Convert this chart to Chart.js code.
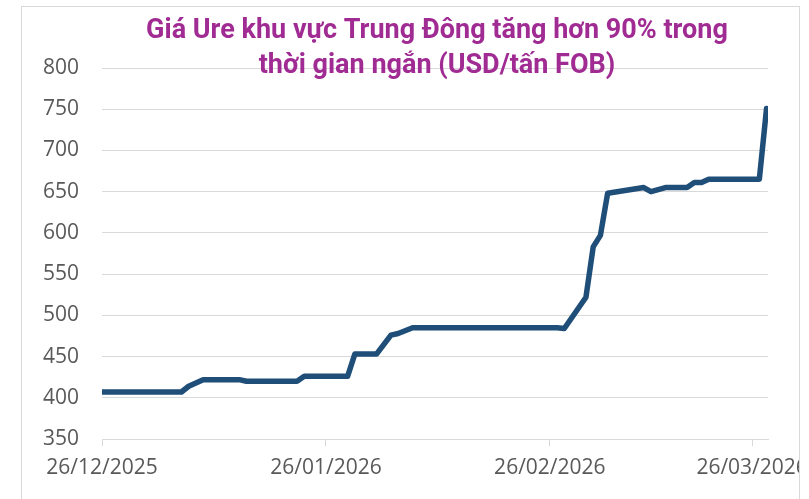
<!DOCTYPE html>
<html>
<head>
<meta charset="utf-8">
<script src="https://cdn.jsdelivr.net/npm/chart.js@4.4.1/dist/chart.umd.min.js"></script>
<style>
  html, body { margin: 0; padding: 0; background: #fff; }
  #wrap { width: 809px; height: 499px; }
</style>
</head>
<body>
<div id="wrap"><canvas id="ureaChart" width="809" height="499"></canvas></div>
<script>
// Giá Ure Trung Đông (USD/tấn FOB)
const dates = [
  '2025-12-26', '2026-01-06', '2026-01-07', '2026-01-08', '2026-01-09',
  '2026-01-14', '2026-01-15', '2026-01-22', '2026-01-23', '2026-01-29',
  '2026-01-30', '2026-02-02', '2026-02-04', '2026-02-05', '2026-02-07',
  '2026-02-27', '2026-02-28', '2026-03-03', '2026-03-04', '2026-03-05',
  '2026-03-06', '2026-03-11', '2026-03-12', '2026-03-14', '2026-03-17',
  '2026-03-18', '2026-03-19', '2026-03-20', '2026-03-27', '2026-03-28'
];
const prices = [
  407, 407, 414, 418, 422,
  422, 420, 420, 426, 426,
  453, 453, 476, 478, 485,
  485, 484, 522, 583, 597,
  648, 655, 650, 655, 655,
  661, 661, 665, 665, 751
];
const tickDates = ['2025-12-26', '2026-01-26', '2026-02-26', '2026-03-26'];
const tickLabels = ['26/12/2025', '26/01/2026', '26/02/2026', '26/03/2026'];
const yTicks = { min: 350, max: 800, step: 50 };
const titleLines = [
  'Giá Ure khu vực Trung Đông tăng hơn 90% trong',
  'thời gian ngắn (USD/tấn FOB)'
];

const DAY = 86400000;
const t0 = Date.parse(dates[0]);
const dayOf = d => (Date.parse(d) - t0) / DAY;

const points = dates.map((d, i) => ({ x: dayOf(d), y: prices[i] }));
const tickDays = tickDates.map(dayOf);

const frame = {
  id: 'frame',
  beforeDraw(chart) {
    const { ctx } = chart;
    ctx.save();
    ctx.fillStyle = '#fff';
    ctx.fillRect(0, 0, chart.width, chart.height);
    ctx.restore();
  },
  afterDraw(chart) {
    const { ctx } = chart;
    ctx.save();
    // chart frame clips the last date label
    ctx.fillStyle = '#fff';
    ctx.fillRect(800, 0, chart.width - 800, chart.height);
    ctx.strokeStyle = '#d9d9d9';
    ctx.lineWidth = 1;
    ctx.strokeRect(21.5, 6.5, 778, 500);
    // title
    ctx.font = 'bold 27px Roboto';
    ctx.fillStyle = '#A02B93';
    ctx.textAlign = 'center';
    ctx.textBaseline = 'middle';
    titleLines.forEach((t, i) => ctx.fillText(t, 437, 31 + i * 35));
    ctx.restore();
  }
};

new Chart(document.getElementById('ureaChart'), {
  type: 'line',
  data: {
    datasets: [{
      label: 'Ure Trung Đông',
      data: points,
      borderColor: '#1F4E79',
      borderWidth: 5.5,
      borderCapStyle: 'round',
      borderJoinStyle: 'round',
      pointRadius: 0,
      tension: 0,
      fill: false
    }]
  },
  options: {
    responsive: false,
    animation: false,
    layout: { padding: { left: 21, right: 41, top: 68, bottom: 0 } },
    plugins: {
      legend: { display: false },
      tooltip: { enabled: false },
      title: { display: false }
    },
    scales: {
      x: {
        type: 'linear',
        min: 0,
        max: 92.2,
        afterBuildTicks: scale => {
          scale.ticks = tickDays.map(v => ({ value: v }));
        },
        afterFit: scale => {
          scale.paddingLeft = 0;
          scale.paddingRight = 0;
          scale.height = 60;
        },
        grid: {
          drawOnChartArea: false,
          drawTicks: true,
          tickLength: 7,
          color: '#d9d9d9'
        },
        border: { display: true, color: '#d9d9d9', width: 1 },
        ticks: {
          autoSkip: false,
          maxRotation: 0,
          padding: 9,
          color: '#595959',
          font: { family: 'Open Sans', size: 21 },
          callback: (v, i) => tickLabels[i]
        }
      },
      y: {
        min: yTicks.min,
        max: yTicks.max,
        afterFit: scale => {
          scale.paddingTop = 0;
          scale.paddingBottom = 0;
          scale.width = 81;
        },
        grid: { color: '#d9d9d9', lineWidth: 1, drawTicks: false },
        border: { display: false },
        ticks: {
          stepSize: yTicks.step,
          padding: 23,
          color: '#595959',
          font: { family: 'Open Sans', size: 21 }
        }
      }
    }
  },
  plugins: [frame]
});
</script>
</body>
</html>
